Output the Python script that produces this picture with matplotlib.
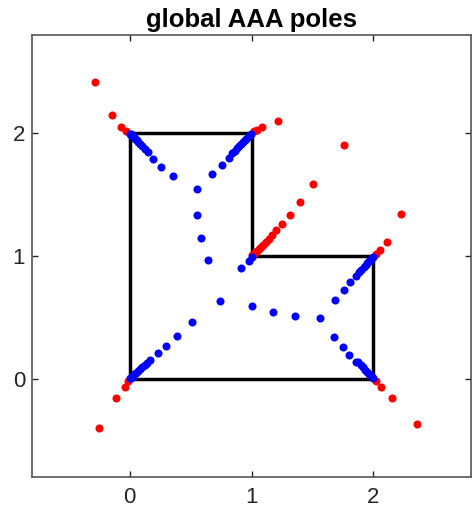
import matplotlib
matplotlib.use('Agg')
import matplotlib.pyplot as plt

plt.rcParams['font.family'] = ['Liberation Sans', 'DejaVu Sans']

# L-shaped domain boundary
bx = [0, 2, 2, 1, 1, 0, 0]
by = [0, 0, 1, 1, 2, 2, 0]

# poles outside the domain (red)
red_x = [-0.285, -0.147, -0.068, -0.030,
         1.217, 1.086, 1.046, 1.020,
         1.755,
         1.502, 1.394, 1.312, 1.249, 1.200, 1.168, 1.140, 1.115, 1.095,
         1.075, 1.058, 1.043, 1.030, 1.020, 1.012, 1.006,
         2.222, 2.113, 2.051, 2.020,
         2.358, 2.152, 2.059, 2.020,
         -0.253, -0.109, -0.041, -0.015]
red_y = [2.416, 2.147, 2.047, 2.020,
         2.100, 2.052, 2.030, 2.015,
         1.902,
         1.584, 1.440, 1.335, 1.257, 1.208, 1.170, 1.140, 1.115, 1.093,
         1.072, 1.056, 1.042, 1.030, 1.020, 1.012, 1.006,
         1.344, 1.118, 1.045, 1.015,
         -0.371, -0.153, -0.071, -0.020,
         -0.397, -0.160, -0.065, -0.020]

# poles inside the domain (blue)
blue_x = [0.549, 0.353, 0.258, 0.196, 0.149, 0.125, 0.105, 0.088, 0.072,
          0.058, 0.045, 0.034, 0.024, 0.015, 0.008, 0.003,
          0.679, 0.755, 0.815, 0.840, 0.862, 0.882, 0.900, 0.917, 0.932,
          0.946, 0.958, 0.969, 0.979, 0.987, 0.994,
          0.557, 0.584, 0.644,
          0.910, 0.978, 1.000,
          1.994, 1.986, 1.976, 1.964, 1.951, 1.936, 1.920, 1.902, 1.883,
          1.861, 1.807, 1.758, 1.684, 1.562,
          1.994, 1.986, 1.976, 1.964, 1.950, 1.934, 1.916, 1.896, 1.875,
          1.853, 1.798, 1.747, 1.676,
          1.353, 1.180, 1.005, 0.739,
          0.511, 0.386, 0.299, 0.231, 0.169, 0.145, 0.123, 0.103, 0.085,
          0.068, 0.053, 0.040, 0.028, 0.018, 0.010, 0.004]
blue_y = [1.543, 1.651, 1.728, 1.788, 1.847, 1.873, 1.894, 1.911, 1.927,
          1.941, 1.955, 1.966, 1.976, 1.985, 1.992, 1.997,
          1.670, 1.744, 1.798, 1.835, 1.858, 1.878, 1.897, 1.914, 1.929,
          1.943, 1.956, 1.967, 1.977, 1.986, 1.993,
          1.331, 1.148, 0.969,
          0.906, 0.963, 0.995,
          0.993, 0.984, 0.973, 0.959, 0.944, 0.927, 0.909, 0.888, 0.866,
          0.841, 0.789, 0.722, 0.641, 0.495,
          0.006, 0.015, 0.026, 0.039, 0.054, 0.072, 0.092, 0.113, 0.135,
          0.139, 0.193, 0.256, 0.337,
          0.514, 0.545, 0.590, 0.637,
          0.463, 0.351, 0.269, 0.207, 0.153, 0.130, 0.110, 0.092, 0.076,
          0.061, 0.047, 0.035, 0.025, 0.016, 0.009, 0.004]

fig = plt.figure(figsize=(4.73, 5.13), dpi=100)
ax = fig.add_axes([32 / 473, 36 / 513, 439 / 473, 442 / 513])

ax.plot(bx, by, color='k', lw=2.5, zorder=2)
ax.plot(red_x, red_y, 'o', color='r', ms=5.8, mec='none', zorder=3)
ax.plot(blue_x, blue_y, 'o', color='b', ms=5.8, mec='none', zorder=4)

ax.set_xlim(-0.8, 2.8)
ax.set_ylim(-0.8, 2.8)
ax.set_xticks([0, 1, 2])
ax.set_yticks([0, 1, 2])
ax.tick_params(direction='in', top=True, right=True, length=4, width=1,
               labelsize=16, color='#262626', labelcolor='#262626')
ax.tick_params(axis='x', pad=7)
ax.tick_params(axis='y', pad=5)
for s in ax.spines.values():
    s.set_color('#555555')
    s.set_linewidth(1.2)

ax.set_title('global AAA poles', fontsize=18.5, fontweight='bold', pad=6)

fig.savefig('out.png', dpi=100)
